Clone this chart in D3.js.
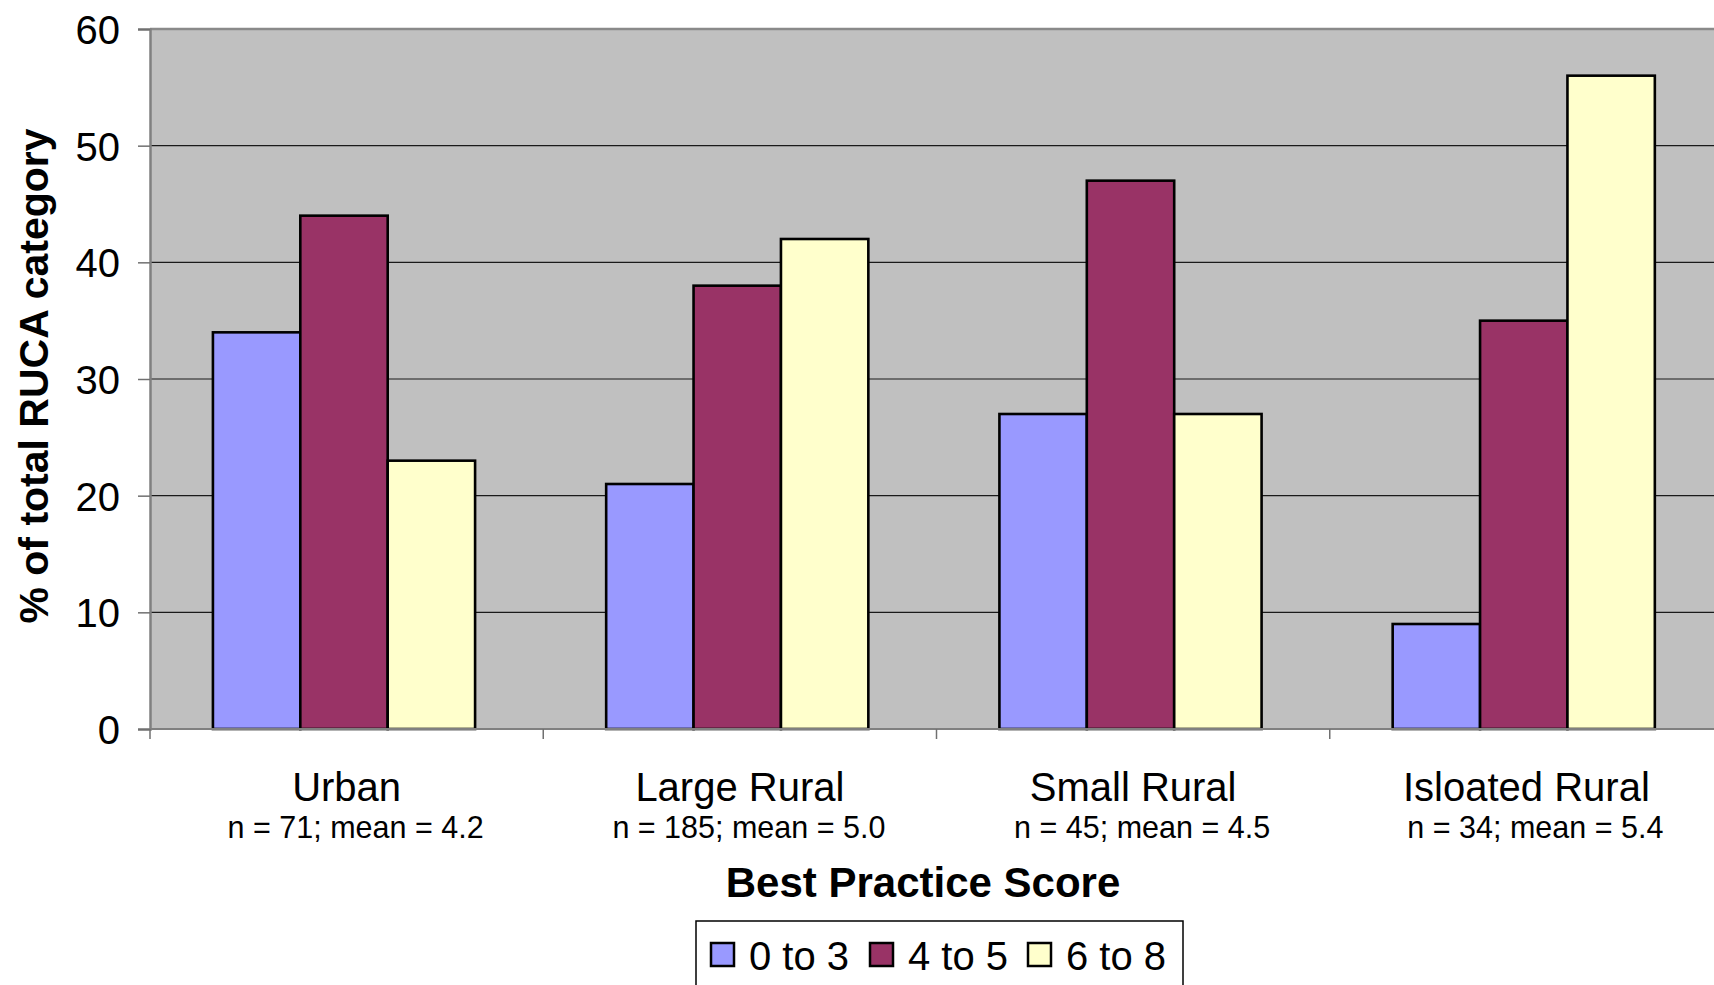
<!DOCTYPE html>
<html>
<head>
<meta charset="utf-8">
<script src="https://cdn.jsdelivr.net/npm/d3@7"></script>
<style>
  html, body { margin: 0; padding: 0; background: #fff; }
  svg { display: block; font-family: "Liberation Sans", Arial, sans-serif; }
</style>
</head>
<body>
<script>
// data
var categories = ["Urban", "Large Rural", "Small Rural", "Isloated Rural"];
var subLabels = ["n = 71; mean = 4.2", "n = 185; mean = 5.0", "n = 45; mean = 4.5", "n = 34; mean = 5.4"];
var seriesNames = ["0 to 3", "4 to 5", "6 to 8"];
var low = [34, 21, 27, 9];
var mid = [44, 38, 47, 35];
var high = [23, 42, 27, 56];
var yTicks = [0, 10, 20, 30, 40, 50, 60];
var colores = ["#9999FF", "#993366", "#FFFFCC"];

var largura = 1714;
var altura = 985;
var esq = 150, dir = 1723, topo = 29, base = 729;

var series = [low, mid, high];
var tabela = categories.map(function(c, i) {
  return { cat: c, sub: subLabels[i], vals: series.map(function(s) { return s[i]; }) };
});

var svg = d3.select("body")
            .append("svg")
            .attr("width", largura)
            .attr("height", altura);

var x = d3.scaleBand()
          .domain(categories)
          .range([esq, dir])
          .padding(0);

var barra = x.bandwidth() / 4.5;
var xs = d3.scaleBand()
           .domain(seriesNames)
           .range([barra * 0.72, x.bandwidth() - barra * 0.78]);

var y = d3.scaleLinear()
          .domain([0, 60])
          .range([base, topo]);

// plot area
svg.append("rect")
   .attr("x", esq).attr("y", topo)
   .attr("width", dir - esq).attr("height", base - topo)
   .attr("fill", "#C0C0C0");

// gridlines
svg.append("g")
   .selectAll("line")
   .data(yTicks.filter(function(t) { return t > 0 && t < 60; }))
   .enter()
   .append("line")
   .attr("x1", esq).attr("x2", dir)
   .attr("y1", function(d) { return y(d); })
   .attr("y2", function(d) { return y(d); })
   .attr("stroke", "#1a1a1a")
   .attr("stroke-width", 1.2);

// top border
svg.append("line")
   .attr("x1", esq).attr("x2", dir)
   .attr("y1", topo).attr("y2", topo)
   .attr("stroke", "#8a8a8a").attr("stroke-width", 2.5);

// bars
var grupos = svg.append("g")
                .selectAll("g")
                .data(tabela)
                .enter()
                .append("g")
                .attr("transform", function(d) { return "translate(" + x(d.cat) + ",0)"; });

grupos.selectAll("rect")
      .data(function(d) { return d.vals.map(function(v, k) { return { nome: seriesNames[k], v: v, k: k }; }); })
      .enter()
      .append("rect")
      .attr("x", function(d) { return xs(d.nome); })
      .attr("y", function(d) { return y(d.v); })
      .attr("width", xs.bandwidth())
      .attr("height", function(d) { return y(0) - y(d.v); })
      .attr("fill", function(d) { return colores[d.k]; })
      .attr("stroke", "#000")
      .attr("stroke-width", 2.6);

// y axis
var eixoY = svg.append("g")
               .attr("transform", "translate(" + esq + ",0)")
               .call(d3.axisLeft(y).tickValues(yTicks).tickSize(12).tickPadding(18));
eixoY.select(".domain").attr("stroke", "#808080").attr("stroke-width", 2.5);
eixoY.selectAll(".tick line").attr("stroke", "#707070").attr("stroke-width", 1.5);
eixoY.selectAll(".tick text")
     .attr("font-size", 40)
     .attr("font-family", "Liberation Sans, Arial, sans-serif")
     .attr("fill", "#000")
     .attr("dy", "0.36em");

// x axis line and boundary ticks
svg.append("line")
   .attr("x1", esq).attr("x2", dir)
   .attr("y1", base).attr("y2", base)
   .attr("stroke", "#808080").attr("stroke-width", 2);

svg.append("g")
   .selectAll("line")
   .data(categories)
   .enter()
   .append("line")
   .attr("x1", function(d) { return x(d); })
   .attr("x2", function(d) { return x(d); })
   .attr("y1", base).attr("y2", base + 10)
   .attr("stroke", "#707070").attr("stroke-width", 1.5);

// category labels
var eixoX = svg.append("g")
               .attr("transform", "translate(0," + base + ")")
               .call(d3.axisBottom(x).tickSize(0).tickPadding(0).tickFormat(""));
eixoX.select(".domain").remove();

eixoX.selectAll(".tick")
     .append("text")
     .attr("y", 72)
     .attr("text-anchor", "middle")
     .attr("font-size", 40)
     .attr("fill", "#000")
     .text(function(d) { return d; });

eixoX.selectAll(".tick")
     .append("text")
     .attr("x", 9)
     .attr("y", 109)
     .attr("text-anchor", "middle")
     .attr("font-size", 30.5)
     .attr("fill", "#000")
     .text(function(d, i) { return subLabels[i]; });

// axis titles
svg.append("text")
   .attr("x", 923)
   .attr("y", 897)
   .attr("text-anchor", "middle")
   .attr("font-size", 42)
   .attr("font-weight", "bold")
   .text("Best Practice Score");

svg.append("text")
   .attr("transform", "translate(48,376) rotate(-90)")
   .attr("text-anchor", "middle")
   .attr("font-size", 41)
   .attr("font-weight", "bold")
   .text("% of total RUCA category");

// legend
var legenda = svg.append("g");
legenda.append("rect")
       .attr("x", 696).attr("y", 921)
       .attr("width", 487).attr("height", 90)
       .attr("fill", "#fff")
       .attr("stroke", "#000")
       .attr("stroke-width", 1.5);

var posLeg = [711, 870, 1028];
var itens = legenda.selectAll("g.item")
                   .data(seriesNames)
                   .enter()
                   .append("g")
                   .attr("class", "item")
                   .attr("transform", function(d, i) { return "translate(" + posLeg[i] + ",0)"; });

itens.append("rect")
     .attr("x", 0).attr("y", 943)
     .attr("width", 23).attr("height", 23)
     .attr("fill", function(d, i) { return colores[i]; })
     .attr("stroke", "#000")
     .attr("stroke-width", 2.5);

itens.append("text")
     .attr("x", 38).attr("y", 970)
     .attr("font-size", 40)
     .attr("fill", "#000")
     .text(function(d) { return d; });
</script>
</body>
</html>
